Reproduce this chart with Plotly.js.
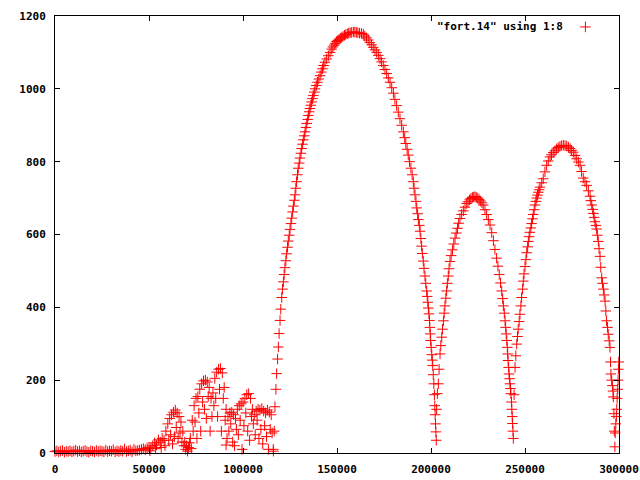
<!DOCTYPE html>
<html>
<head>
<meta charset="utf-8">
<script src="https://cdn.plot.ly/plotly-3.0.1.min.js"></script>
<style>
body { margin: 0; background: #ffffff; }
#graph { width: 640px; height: 480px; }
</style>
</head>
<body>
<div id="graph"></div>
<script>

// noise floor before anything happens
var floorX = [0, 1000, 2000, 3000, 4000, 5000, 6000, 7000, 8000, 9000, 10000, 11000, 12000, 13000, 14000, 15000,
	16000, 17000, 18000, 19000, 20000, 21000, 22000, 23000, 24000, 25000, 26000, 27000, 28000, 29000, 30000,
	31000, 32000, 33000, 34000, 35000, 36000, 37000, 38000, 39000, 40000, 41000, 42000, 43000, 44000];
var floorY = [4, 6, 3, 5, 7, 2, 5, 4, 6, 3, 5, 8, 4, 6, 3, 5,
	7, 4, 2, 6, 5, 3, 7, 4, 6, 5, 3, 8, 4, 6, 5,
	9, 3, 6, 4, 7, 5, 11, 4, 6, 8, 3, 10, 6, 7];

// messy part, upper envelope
var clusterTopX = [45000, 46000, 47000, 48000, 49000, 50000, 51000, 52000, 53000, 54000, 55000, 56000, 57000, 58000,
	59000, 60000, 61000, 62000, 63000, 64000, 65000, 66000, 67000, 68000, 69000, 70000, 71000, 72000, 73000,
	74000, 75000, 76000, 77000, 78000, 79000, 80000, 81000, 82000, 83000, 84000, 85000, 86000, 87000, 88000,
	89000, 90000, 91000, 92000, 93000, 94000, 95000, 96000, 97000, 98000, 99000, 100000, 101000, 102000,
	103000, 104000, 105000, 106000, 107000, 108000, 109000, 110000, 111000, 112000, 113000, 114000, 115000];
var clusterTopY = [8, 10, 12, 9, 14, 16, 13, 20, 28, 22, 36, 30, 40, 35,
	60, 80, 95, 105, 112, 118, 110, 100, 85, 60, 30, 20, 15, 40, 90,
	130, 150, 155, 175, 190, 198, 200, 195, 180, 150, 165, 205, 222, 230, 232,
	220, 180, 120, 100, 110, 112, 105, 95, 120, 130, 135, 140, 150, 160,
	163, 150, 120, 105, 115, 120, 118, 122, 115, 110, 118, 112, 105];

// messy part, points falling below the envelope
var clusterLowX = [50500, 53500, 56500, 58500, 60500, 61500, 62500, 63500, 64500, 65500, 66500, 67500, 68500,
	69500, 70500, 71500, 72500, 73500, 74500, 75500, 76500, 77500, 78500, 79500, 80500, 81500, 82500, 83500,
	84500, 85500, 86500, 87500, 88500, 89500, 90500, 91000, 91500, 92500, 93500, 94500, 95500, 96500, 97500,
	98500, 99500, 100500, 101500, 102500, 103500, 104500, 105500, 106500, 107500, 108500, 109500, 110500,
	111500, 112500, 113500, 114500, 115500, 116100];
var clusterLowY = [6, 12, 15, 20, 35, 50, 25, 45, 70, 40, 55, 30, 20,
	10, 5, 28, 12, 60, 85, 40, 110, 60, 140, 120, 95, 155, 60, 100,
	130, 150, 100, 175, 60, 150, 90, 22, 40, 60, 80, 30, 20, 65, 50,
	90, 10, 75, 110, 60, 35, 100, 80, 50, 90, 40, 65, 25,
	75, 45, 10, 65, 55, 10];

// first big lobe
var lobe1X = [116200, 116600, 117000, 117500, 117900, 118400, 118800, 119200, 119700, 120100, 120600, 121000, 121500,
	121900, 122300, 122800, 123200, 123700, 124100, 124600, 125000, 125500, 125900, 126400, 126800, 127300, 127700,
	128100, 128500, 129000, 129400, 129900, 130300, 130800, 131200, 131700, 132100, 132600, 133000, 133500,
	133900, 134400, 134800, 135200, 135600, 136100, 136500, 137000, 137400, 137900, 138300, 139000, 139600,
	140300, 141000, 141600, 142300, 142900, 143600, 144500, 145400, 146300, 147200, 147800, 148500, 149100,
	149800, 150400, 151100, 151800, 152500, 153200, 154000, 154700, 155500, 156200, 157000, 157800, 158700,
	159500, 160300, 161100, 162000, 163000, 164000, 164800, 165700, 166600, 167500, 168400, 169300, 170200,
	171100, 172000, 172900, 173700, 174600, 175500, 176400, 177300, 178200, 179100, 180000, 180800, 181700,
	182600, 183500, 184400, 185300, 186000, 186600, 187300, 187900, 188600, 189300, 190000, 190600, 191000,
	191500, 192000, 192400, 192900, 193300, 193800, 194200, 194600, 195000, 195400, 195900, 196300, 196800,
	197200, 197700, 198000, 198300, 198600, 198900, 199200, 199400, 199600, 199800, 200100, 200400, 200700,
	200900, 201200, 201500, 201800, 202000, 202200, 202400, 202600, 202800];
var lobe1Y = [5, 60, 127, 175, 218, 258, 291, 328, 364, 395, 427, 450, 470,
	490, 509, 528, 547, 565, 582, 598, 614, 630, 645, 662, 678, 694, 709,
	727, 745, 764, 782, 796, 810, 823, 836, 848, 860, 871, 882, 894,
	905, 916, 927, 937, 946, 955, 964, 973, 982, 991, 1000, 1009, 1018,
	1027, 1036, 1046, 1055, 1064, 1073, 1082, 1091, 1100, 1109, 1115, 1120, 1125,
	1130, 1133, 1136, 1139, 1141, 1144, 1147, 1149, 1151, 1153, 1154, 1155, 1156,
	1156, 1155, 1154, 1153, 1152, 1150, 1145, 1140, 1134, 1127, 1121, 1114, 1107,
	1100, 1092, 1083, 1074, 1064, 1053, 1042, 1030, 1018, 1003, 988, 971, 954,
	936, 918, 900, 882, 866, 850, 834, 818, 800, 782, 764, 745, 727,
	709, 691, 673, 657, 641, 625, 609, 589, 568, 548, 527, 507, 486,
	466, 445, 430, 414, 398, 382, 364, 345, 327, 309, 290, 270, 255,
	240, 215, 190, 160, 130, 105, 80, 58, 35];

// middle lobe
var lobe2X = [203000, 203400, 203900, 204300, 204800, 205200, 205700, 206100, 206600, 207000, 207400, 207900,
	208300, 208700, 209200, 209600, 210100, 210700, 211400, 212100, 212800, 213400, 214100, 214700, 215400,
	216300, 217200, 218100, 219000, 219700, 220500, 221200, 222000, 222700, 223400, 224100, 224900, 225600,
	226400, 227100, 227800, 228700, 229600, 230500, 231400, 232300, 233200, 234000, 234900, 235600, 236300,
	237000, 237600, 238100, 238500, 239000, 239400, 239700, 240000, 240300, 240600, 240800, 241000, 241300,
	241500, 241800, 242000, 242300, 242500, 242800, 243000, 243200, 243400, 243600, 243800];
var lobe2Y = [120, 163, 190, 230, 272, 295, 318, 340, 363, 384, 404, 425,
	445, 466, 486, 506, 526, 542, 558, 574, 590, 604, 617, 631, 644,
	655, 665, 675, 685, 690, 695, 699, 702, 703, 704, 702, 700, 696,
	692, 687, 681, 668, 655, 641, 626, 605, 583, 559, 535, 513, 490,
	467, 445, 424, 404, 384, 363, 345, 327, 309, 290, 272, 254, 235,
	217, 204, 190, 177, 163, 140, 120, 100, 81, 60, 40];

// last lobe
var lobe3X = [244200, 244700, 245100, 245600, 246000, 246400, 246900, 247300, 247800, 248200, 248700, 249100,
	249500, 250000, 250500, 250900, 251400, 251800, 252200, 252600, 253100, 253500, 254000, 254400, 254900,
	255300, 255800, 256200, 256700, 257100, 257500, 258000, 258900, 259700, 260600, 261500, 262400, 263300,
	264100, 265000, 265900, 266800, 267700, 268600, 269500, 270400, 271300, 272200, 273100, 274000, 274800,
	275700, 276600, 277500, 278400, 279300, 280100, 281000, 281900, 282800, 283700, 284600, 285000, 285500,
	286000, 286400, 286800, 287200, 287700, 288100, 288500, 289000, 289400, 289900, 290300, 290800, 291200,
	291700, 292100, 292600, 293000, 293400, 293900, 294300, 294800, 295200, 295500, 295700, 296100, 296500,
	296800, 297000, 297300, 297500];
var lobe3Y = [160, 235, 267, 299, 320, 340, 361, 381, 404, 427, 450, 472,
	492, 512, 531, 550, 566, 581, 594, 606, 618, 630, 643, 655, 668,
	681, 691, 700, 708, 716, 723, 730, 742, 753, 772, 790, 802, 813,
	819, 825, 830, 835, 839, 842, 844, 845, 844, 843, 840, 836, 831,
	826, 817, 808, 799, 790, 773, 755, 745, 735, 720, 705, 693, 681,
	669, 658, 647, 635, 625, 615, 598, 581, 561, 540, 510, 481, 466,
	450, 434, 417, 390, 363, 345, 326, 308, 290, 250, 217, 200, 185,
	170, 154, 108, 60, 17];

// start of the next rise at the right edge
var riseX = [297800, 298000, 298300, 298600, 298800, 299000, 299300, 299500, 299700, 299900];
var riseY = [55, 80, 100, 120, 150, 175, 200, 230, 250, 272];

var xTickVals = [0, 50000, 100000, 150000, 200000, 250000, 300000];
var yTickVals = [0, 200, 400, 600, 800, 1000, 1200];

var seriesName = '"fort.14" using 1:8';

function buildGraph()
{
	var x = [].concat(floorX, clusterTopX, clusterLowX, lobe1X, lobe2X, lobe3X, riseX);
	var y = [].concat(floorY, clusterTopY, clusterLowY, lobe1Y, lobe2Y, lobe3Y, riseY);

	var tickFont = {family: 'DejaVu Sans Mono', size: 11, color: '#000000', weight: 'bold'};

	var trace1 =
	{
		x: x,
		y: y,
		type: 'scatter',
		mode: 'markers',
		name: ' ',
		cliponaxis: false,
		marker: {symbol: 'cross-thin', size: 7.5, color: '#ff0000', line: {color: '#ff0000', width: 1}}
	};
	var axisCommon =
	{
		showgrid: false,
		zeroline: false,
		showline: true,
		linecolor: '#000000',
		linewidth: 1,
		mirror: 'ticks',
		ticks: 'inside',
		ticklen: 5,
		tickwidth: 1,
		tickcolor: '#000000',
		tickfont: tickFont,
		ticklabelstandoff: 6
	};
	var xaxis = Object.assign({}, axisCommon, {range: [0, 300000], tickvals: xTickVals, ticktext: xTickVals.map(String)});
	var yaxis = Object.assign({}, axisCommon, {range: [0, 1200], tickvals: yTickVals, ticktext: yTickVals.map(String)});

	var layout =
	{
		width: 640,
		height: 480,
		paper_bgcolor: '#ffffff',
		plot_bgcolor: '#ffffff',
		margin: {l: 55, r: 21, t: 13, b: 27},
		xaxis: xaxis,
		yaxis: yaxis,
		showlegend: true,
		legend:
		{
			x: 0.905,
			y: 0.975,
			xanchor: 'left',
			yanchor: 'middle',
			bgcolor: 'rgba(0,0,0,0)',
			borderwidth: 0,
			font: tickFont
		},
		annotations: [
		{
			xref: 'paper',
			yref: 'paper',
			x: 0.904,
			y: 0.975,
			xanchor: 'right',
			yanchor: 'middle',
			showarrow: false,
			text: seriesName,
			font: tickFont
		}]
	};
	Plotly.newPlot('graph', [trace1], layout, {displayModeBar: false, staticPlot: true});
}
buildGraph();
</script>
</body>
</html>
